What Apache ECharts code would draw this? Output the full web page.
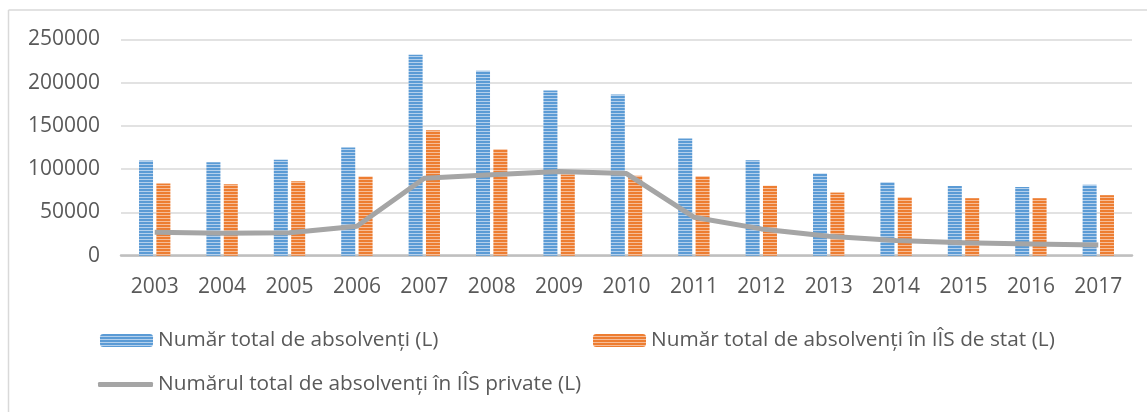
<!DOCTYPE html>
<html>
<head>
<meta charset="utf-8">
<script src="https://cdn.jsdelivr.net/npm/echarts@6/dist/echarts.min.js"></script>
<style>
html,body{margin:0;padding:0;background:#fff;}
#c{width:1147px;height:412px;}
</style>
</head>
<body>
<div id="c"></div>
<script>
const years = ['2003','2004','2005','2006','2007','2008','2009','2010','2011','2012','2013','2014','2015','2016','2017'];
const totalGrad = [110000,108000,111000,125000,232500,214000,191000,186500,135500,110500,95000,85000,80500,79500,82000];
const stateGrad = [83500,82500,86000,91500,145000,123000,94000,92500,92000,81000,73000,67500,66500,66500,70000];
const privateGrad = [27000,26000,26500,34000,89500,93500,97500,95000,44500,31000,22500,17500,15000,13500,12500];
const yTicks = [0,50000,100000,150000,200000,250000];
const names = ['Număr total de absolvenți (L)','Număr total de absolvenți în IÎS de stat (L)','Numărul total de absolvenți în IÎS private (L)'];

function stripe(dark, light){
  const cv = document.createElement('canvas');
  cv.width = 4; cv.height = 3;
  const ctx = cv.getContext('2d');
  ctx.fillStyle = dark; ctx.fillRect(0,0,4,2);
  ctx.fillStyle = light; ctx.fillRect(0,2,4,1);
  return {image: cv, repeat: 'repeat'};
}
const bluePat = stripe('#5b9bd5','#b4d0ec');
const orangePat = stripe('#ed7d31','#f6bd98');

const font = '"Open Sans", sans-serif';
const legendText = {color: '#595959', fontSize: 20.8, fontFamily: font};
const chart = echarts.init(document.getElementById('c'));
chart.setOption({
  animation: false,
  backgroundColor: '#fff',
  grid: {left: 121, right: 15, top: 39.5, bottom: 156.3, containLabel: false},
  xAxis: {
    type: 'category', data: years,
    axisLine: {show: true, lineStyle: {color: '#bfbfbf', width: 2.5}},
    axisTick: {show: false},
    axisLabel: {color: '#595959', fontSize: 21, fontFamily: font, margin: 21}
  },
  yAxis: {
    type: 'value', min: yTicks[0], max: yTicks[yTicks.length-1], interval: 50000,
    axisLine: {show: false}, axisTick: {show: false},
    axisLabel: {color: '#595959', fontSize: 21, fontFamily: font, margin: 21, formatter: v => String(v)},
    splitLine: {lineStyle: {color: '#d9d9d9', width: 1.5}}
  },
  legend: [
    {data: [names[0]], left: 100, top: 330, itemWidth: 53, itemHeight: 13, padding: 0, textStyle: legendText},
    {data: [names[1]], left: 593, top: 330, itemWidth: 53, itemHeight: 13, padding: 0, textStyle: legendText},
    {data: [{name: names[2], icon: 'roundRect'}], left: 98, top: 374, itemWidth: 55, itemHeight: 5, padding: 0, textStyle: legendText}
  ],
  series: [
    {name: names[0], type: 'bar', data: totalGrad, barWidth: 14, barGap: '24%',
     itemStyle: {color: bluePat}},
    {name: names[1], type: 'bar', data: stateGrad, barWidth: 14,
     itemStyle: {color: orangePat}},
    {name: names[2], type: 'line', data: privateGrad, symbol: 'none', z: 5,
     lineStyle: {color: '#a5a5a5', width: 5, join: 'round'}, itemStyle: {color: '#a5a5a5'}}
  ],
  graphic: [
    {type: 'line', shape: {x1: 8.5, y1: 10, x2: 1147, y2: 10}, style: {stroke: '#d9d9d9', lineWidth: 1.5}},
    {type: 'line', shape: {x1: 8.5, y1: 10, x2: 8.5, y2: 412}, style: {stroke: '#d9d9d9', lineWidth: 1.5}}
  ]
});
</script>
</body>
</html>
